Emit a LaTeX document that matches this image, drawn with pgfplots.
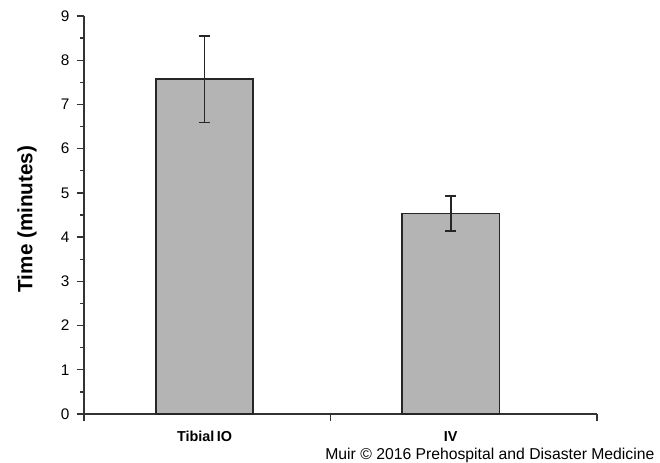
\documentclass[border=0pt]{standalone}
\usepackage{pgfplots}
\pgfplotsset{compat=1.18}
\usepackage{fontspec}
\setmainfont{Liberation Sans}
\definecolor{barfill}{RGB}{180,180,180}
\begin{document}
\begin{tikzpicture}
\path[use as bounding box] (-63pt,-36.75pt) rectangle (432pt,310.5pt);
\begin{axis}[
  at={(0,0)}, anchor=south west,
  scale only axis,
  width=384.75pt, height=298.5pt,
  xmin=-0.5, xmax=1.5,
  ymin=0, ymax=9,
  axis x line*=bottom, axis y line*=left,
  axis line style={-, line width=1.1pt, black!80},
  xtick={-0.5,0.46,1.5}, xticklabels={},
  extra x ticks={-0.03,0.93},
  extra x tick labels={Tibial\,IO, IV},
  extra x tick style={major tick length=0pt, tick label style={font=\fontsize{10.8}{12}\selectfont\bfseries, anchor=base, yshift=-20.5pt}},
  ytick={0,...,9},
  minor y tick num=1,
  tick align=outside,
  major tick length=5.5pt, minor tick length=3pt,
  tick style={line width=1pt, black!80},
  yticklabel style={font=\fontsize{11.5}{13}\selectfont, xshift=-2pt},
  /pgf/number format/assume math mode=true,
  ylabel={\bfseries Time (minutes)},
  ylabel style={font=\fontsize{15.5}{17}\selectfont, at={(axis description cs:0,0.49)}, anchor=center, yshift=42.75pt, xshift=0pt},
  clip=false,
]
\addplot[ybar, bar width=0.38, fill=barfill, draw=black!85, line width=1.2pt,
  error bars/.cd, y dir=both, y explicit,
  error bar style={line width=1.3pt, black!85},
  error mark options={rotate=90, mark size=4pt, line width=1.3pt, black!85}]
coordinates {(-0.03,7.57) +- (0,0.98) (0.93,4.53) +- (0,0.40)};
\end{axis}
\node[anchor=base east, inner sep=0pt, font=\fontsize{11.8}{13}\selectfont] at (428pt,-34pt) {Muir \textcopyright\ 2016 Prehospital and Disaster Medicine};
\end{tikzpicture}
\end{document}
